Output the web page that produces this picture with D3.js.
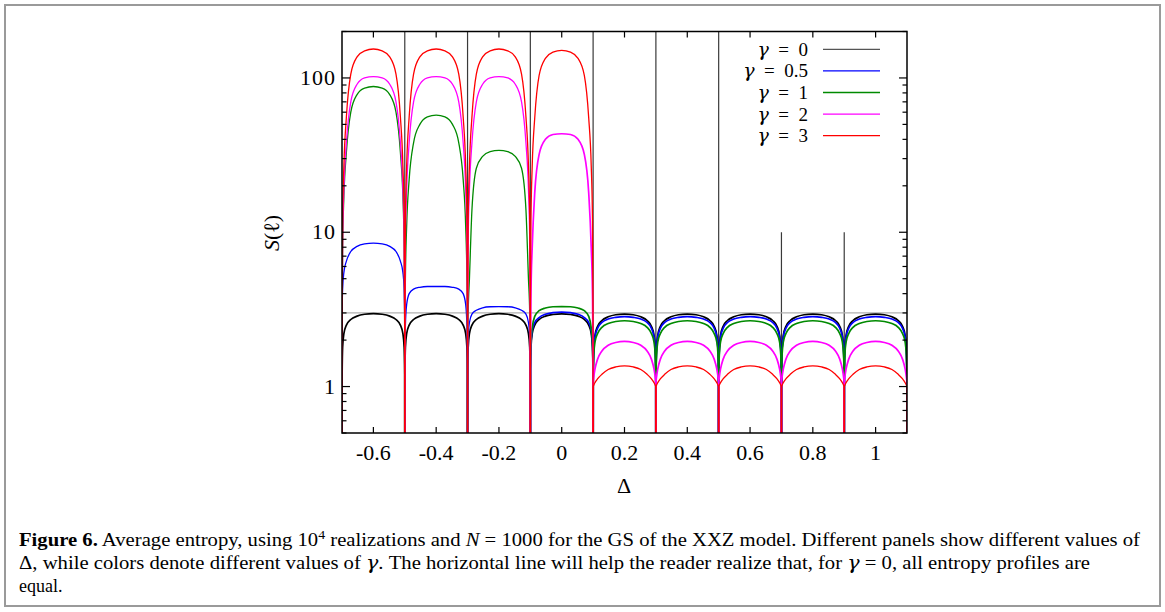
<!DOCTYPE html>
<html>
<head>
<meta charset="utf-8">
<script src="https://cdn.jsdelivr.net/npm/d3@7"></script>
<style>
  body { margin: 0; background: #fff; }
  svg { display: block; }
  text { font-family: "Liberation Serif", "DejaVu Serif", serif; }
  .greek { font-family: "DejaVu Serif", serif; font-style: italic; }
</style>
</head>
<body>
<svg id="chart"></svg>
<script>
// ---- data ----
const gammaLabels = ["0", "0.5", "1", "2", "3"];
const panelCenters = [-0.6, -0.4, -0.2, 0, 0.2, 0.4, 0.6, 0.8, 1.0];
// ell/N positions for half a panel (profiles are symmetric)
const lFrac = [0, 0.002, 0.01, 0.03, 0.07, 0.14, 0.24, 0.36, 0.5];

const sGamma0 = [
  [0.01, 1.2, 1.8, 2.2, 2.5, 2.72, 2.86, 2.94, 2.97],
  [0.01, 1.2, 1.8, 2.2, 2.5, 2.72, 2.86, 2.94, 2.97],
  [0.01, 1.2, 1.8, 2.2, 2.5, 2.72, 2.86, 2.94, 2.97],
  [0.01, 1.2, 1.8, 2.2, 2.5, 2.72, 2.86, 2.93, 2.96],
  [0.01, 1.2, 1.75, 2.15, 2.45, 2.68, 2.83, 2.92, 2.95],
  [0.01, 1.2, 1.75, 2.15, 2.45, 2.68, 2.83, 2.92, 2.95],
  [0.01, 1.2, 1.75, 2.15, 2.45, 2.68, 2.83, 2.92, 2.95],
  [0.01, 1.2, 1.75, 2.15, 2.45, 2.68, 2.83, 2.92, 2.95],
  [0.01, 1.2, 1.75, 2.15, 2.45, 2.68, 2.83, 2.92, 2.95]
];
const sGamma05 = [
  [0.01, 3.0, 4.3, 5.5, 6.5, 7.5, 8.1, 8.4, 8.5],
  [0.01, 1.6, 2.5, 3.4, 4.0, 4.28, 4.4, 4.45, 4.45],
  [0.01, 1.4, 2.1, 2.6, 2.95, 3.12, 3.24, 3.29, 3.3],
  [0.01, 1.3, 1.9, 2.3, 2.6, 2.8, 2.94, 3.01, 3.04],
  [0.01, 1.2, 1.7, 2.1, 2.38, 2.6, 2.74, 2.81, 2.84],
  [0.01, 1.2, 1.7, 2.1, 2.38, 2.6, 2.74, 2.81, 2.84],
  [0.01, 1.2, 1.7, 2.1, 2.38, 2.6, 2.74, 2.81, 2.84],
  [0.01, 1.2, 1.7, 2.1, 2.38, 2.6, 2.74, 2.81, 2.84],
  [0.01, 1.2, 1.7, 2.1, 2.38, 2.6, 2.74, 2.81, 2.84]
];
const sGamma1 = [
  [0.01, 2.4, 8, 17, 33, 60, 78, 86, 88],
  [0.01, 1.8, 5, 11, 22, 38, 50, 56, 57.5],
  [0.01, 1.6, 3.0, 5.0, 14, 26, 31, 33.3, 33.9],
  [0.01, 1.3, 1.95, 2.4, 2.85, 3.1, 3.23, 3.29, 3.3],
  [0.01, 1.15, 1.6, 1.95, 2.2, 2.42, 2.56, 2.64, 2.67],
  [0.01, 1.15, 1.6, 1.95, 2.2, 2.42, 2.56, 2.64, 2.67],
  [0.01, 1.15, 1.6, 1.95, 2.2, 2.42, 2.56, 2.64, 2.67],
  [0.01, 1.15, 1.6, 1.95, 2.2, 2.42, 2.56, 2.64, 2.67],
  [0.01, 1.15, 1.6, 1.95, 2.2, 2.42, 2.56, 2.64, 2.67]
];
const sGamma2 = [
  [0.01, 2.5, 9, 19, 38, 70, 91, 100, 102],
  [0.01, 2.5, 9, 19, 38, 70, 91, 100, 102],
  [0.01, 2.5, 9, 19, 38, 70, 91, 100, 102],
  [0.01, 1.7, 4.0, 8, 18, 32, 40, 43, 43.5],
  [0.01, 1.07, 1.15, 1.3, 1.5, 1.7, 1.85, 1.93, 1.96],
  [0.01, 1.07, 1.15, 1.3, 1.5, 1.7, 1.85, 1.93, 1.96],
  [0.01, 1.07, 1.15, 1.3, 1.5, 1.7, 1.85, 1.93, 1.96],
  [0.01, 1.07, 1.15, 1.3, 1.5, 1.7, 1.85, 1.93, 1.96],
  [0.01, 1.07, 1.15, 1.3, 1.5, 1.7, 1.85, 1.93, 1.96]
];
const sGamma3 = [
  [0.01, 3, 12, 27, 56, 106, 137, 150, 154],
  [0.01, 3, 12, 27, 56, 106, 137, 150, 154],
  [0.01, 3, 12, 27, 56, 106, 137, 150, 154],
  [0.01, 3, 12, 27, 55, 104, 134, 147, 151],
  [0.01, 1.0, 1.02, 1.06, 1.12, 1.2, 1.29, 1.34, 1.36],
  [0.01, 1.0, 1.02, 1.06, 1.12, 1.2, 1.29, 1.34, 1.36],
  [0.01, 1.0, 1.02, 1.06, 1.12, 1.2, 1.29, 1.34, 1.36],
  [0.01, 1.0, 1.02, 1.06, 1.12, 1.2, 1.29, 1.34, 1.36],
  [0.01, 1.0, 1.02, 1.06, 1.12, 1.2, 1.29, 1.34, 1.36]
];
const seriesData = [sGamma0, sGamma05, sGamma1, sGamma2, sGamma3];

// panel separators and the S value where each one starts
const sepDelta = [-0.5, -0.3, -0.1, 0.1, 0.3, 0.5, 0.7, 0.9];
const sepTop = [200, 200, 200, 200, 200, 200, 10, 10];
const refLine = 3.0;

const xTicks = [-0.6, -0.4, -0.2, 0, 0.2, 0.4, 0.6, 0.8, 1];
const xTickLabels = ["-0.6", "-0.4", "-0.2", "0", "0.2", "0.4", "0.6", "0.8", "1"];
const yTicks = [1, 10, 100];
const yTickLabels = ["1", "10", "100"];

// ---- layout ----
const W = 1165, H = 612;
const margin = {top: 31.5, right: 258, bottom: 179, left: 342},
      width = W - margin.left - margin.right,
      height = H - margin.top - margin.bottom;
const colors = ["#000000", "#0000ff", "#008a00", "#ff00ff", "#ff0000"];

const root = d3.select("#chart").attr("width", W).attr("height", H);

// outer figure frame
root.append("rect")
    .attr("x", 5).attr("y", 5)
    .attr("width", 1155).attr("height", 601)
    .attr("fill", "none").attr("stroke", "#9a9a9a").attr("stroke-width", 2);

const svg = root.append("g")
    .attr("transform", `translate(${margin.left},${margin.top})`);

const xScale = d3.scaleLinear().domain([-0.7, 1.1]).range([0, width]);
const yScale = d3.scaleLog().domain([0.5, 200]).range([height, 0]);

svg.append("clipPath").attr("id", "plot-clip")
  .append("rect").attr("width", width).attr("height", height);

const plot = svg.append("g").attr("clip-path", "url(#plot-clip)");

// separators
plot.selectAll("line.sep")
    .data(sepDelta)
    .enter().append("line")
    .attr("class", "sep")
    .attr("x1", d => xScale(d)).attr("x2", d => xScale(d))
    .attr("y1", (d, i) => yScale(sepTop[i]))
    .attr("y2", height)
    .attr("stroke", "#3a3a3a")
    .attr("stroke-width", 1.2);

// horizontal reference line
plot.append("line")
    .attr("x1", 0).attr("x2", width)
    .attr("y1", yScale(refLine)).attr("y2", yScale(refLine))
    .attr("stroke", "#b0b0b0")
    .attr("stroke-width", 1.3);

const line = d3.line()
    .x(d => xScale(d[0]))
    .y(d => yScale(d[1]))
    .curve(d3.curveMonotoneX);

seriesData.forEach((panels, g) => {
  panels.forEach((half, p) => {
    const x0 = panelCenters[p] - 0.1;
    const left = half.map((v, i) => [x0 + lFrac[i] * 0.2, v]);
    const right = half.slice(0, -1).map((v, i) => [x0 + (1 - lFrac[i]) * 0.2, v]).reverse();
    const noisy = (g === 0) || (p >= 3 && g < 4);
    plot.append("path")
        .datum(left.concat(right))
        .attr("fill", "none")
        .attr("stroke", colors[g])
        .attr("stroke-width", noisy ? 1.7 : 1.3)
        .attr("d", line);
  });
});

// ---- axes ----
const tickG = svg.append("g").attr("stroke", "#000").attr("stroke-width", 1.2);
xTicks.forEach(t => {
  tickG.append("line").attr("x1", xScale(t)).attr("x2", xScale(t))
      .attr("y1", height).attr("y2", height - 6);
  tickG.append("line").attr("x1", xScale(t)).attr("x2", xScale(t))
      .attr("y1", 0).attr("y2", 6);
});
yScale.ticks().forEach(t => {
  const major = yTicks.includes(t);
  const len = major ? 8 : 4.5;
  tickG.append("line").attr("x1", 0).attr("x2", len)
      .attr("y1", yScale(t)).attr("y2", yScale(t));
  tickG.append("line").attr("x1", width).attr("x2", width - len)
      .attr("y1", yScale(t)).attr("y2", yScale(t));
});

svg.append("rect")
    .attr("width", width).attr("height", height)
    .attr("fill", "none").attr("stroke", "#000").attr("stroke-width", 1.5);

svg.selectAll("text.xt")
    .data(xTicks)
    .enter().append("text")
    .attr("class", "xt")
    .attr("x", d => xScale(d))
    .attr("y", height + 27)
    .attr("text-anchor", "middle")
    .style("font-size", "22px")
    .text((d, i) => xTickLabels[i]);

svg.selectAll("text.yt")
    .data(yTicks)
    .enter().append("text")
    .attr("class", "yt")
    .attr("x", -6)
    .attr("y", d => yScale(d) + 7)
    .attr("text-anchor", "end")
    .style("font-size", "22px")
    .style("letter-spacing", "1px")
    .text((d, i) => yTickLabels[i]);

// axis titles
svg.append("text")
    .attr("x", 624 - margin.left)
    .attr("y", 493 - margin.top)
    .attr("text-anchor", "middle")
    .style("font-size", "22px")
    .text("Δ");

const yl = svg.append("text")
    .attr("transform", `translate(${279 - margin.left},${233 - margin.top}) rotate(-90)`)
    .attr("text-anchor", "middle")
    .style("font-size", "22px");
yl.append("tspan").style("font-style", "italic").text("S");
yl.append("tspan").text("(ℓ)");

// ---- legend ----
const legend = svg.append("g");
gammaLabels.forEach((lab, i) => {
  const y = 49.3 - margin.top + i * 21.6;
  const t = legend.append("text")
      .attr("x", 808 - margin.left)
      .attr("y", y + 6.5)
      .attr("text-anchor", "end")
      .style("font-size", "19px");
  t.append("tspan").attr("class", "greek").text("γ");
  t.append("tspan").text("\u2002=\u2002" + lab);
  legend.append("line")
      .attr("x1", 823 - margin.left).attr("x2", 880 - margin.left)
      .attr("y1", y).attr("y2", y)
      .attr("stroke", i === 0 ? "#555" : colors[i])
      .attr("stroke-width", 1.3);
});

// ---- caption ----
const cap = root.append("g").style("font-size", "18px");
const l1 = cap.append("text").attr("x", 19).attr("y", 546)
    .attr("textLength", 1121).attr("lengthAdjust", "spacingAndGlyphs");
l1.append("tspan").style("font-weight", "bold").text("Figure 6.");
l1.append("tspan").text(" Average entropy, using 10");
l1.append("tspan").attr("dy", -7).style("font-size", "12px").text("4");
l1.append("tspan").attr("dy", 7).text(" realizations and ");
l1.append("tspan").style("font-style", "italic").text("N");
l1.append("tspan").text(" = 1000 for the GS of the XXZ model. Different panels show different values of");

const l2 = cap.append("text").attr("x", 19).attr("y", 569)
    .attr("textLength", 1071).attr("lengthAdjust", "spacingAndGlyphs");
l2.append("tspan").text("Δ, while colors denote different values of ");
l2.append("tspan").attr("class", "greek").text("γ");
l2.append("tspan").text(". The horizontal line will help the reader realize that, for ");
l2.append("tspan").attr("class", "greek").text("γ");
l2.append("tspan").text(" = 0, all entropy profiles are");

cap.append("text").attr("x", 19).attr("y", 592).text("equal.");
</script>
</body>
</html>
